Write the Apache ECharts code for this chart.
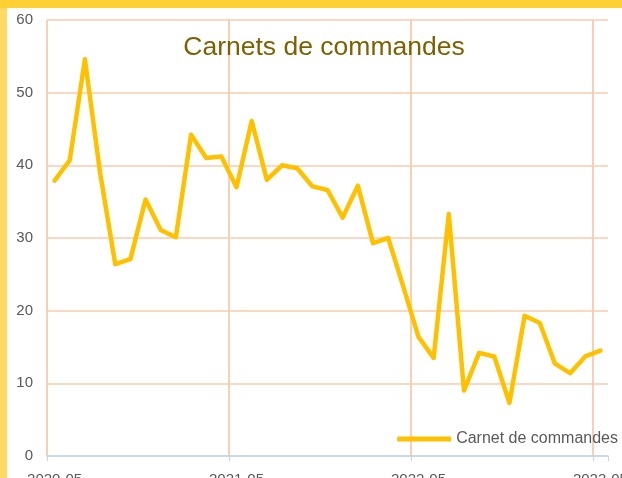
<!DOCTYPE html>
<html>
<head>
<meta charset="utf-8">
<script src="https://cdn.jsdelivr.net/npm/echarts@6/dist/echarts.min.js"></script>
<style>
  html, body { margin: 0; padding: 0; background: #ffffff; }
  #chart { width: 622px; height: 478px; }
</style>
</head>
<body>
<div id="chart"></div>
<script>
// Monthly order-book readings, May 2020 to May 2023
const months = [
  '2020-05', '2020-06', '2020-07', '2020-08', '2020-09', '2020-10', '2020-11', '2020-12',
  '2021-01', '2021-02', '2021-03', '2021-04', '2021-05', '2021-06', '2021-07', '2021-08',
  '2021-09', '2021-10', '2021-11', '2021-12', '2022-01', '2022-02', '2022-03', '2022-04',
  '2022-05', '2022-06', '2022-07', '2022-08', '2022-09', '2022-10', '2022-11', '2022-12',
  '2023-01', '2023-02', '2023-03', '2023-04', '2023-05'
];
const carnet = [
  37.9, 40.7, 54.6, 39.0, 26.4, 27.1, 35.3, 31.1, 30.1, 44.2, 41.0, 41.2,
  37.0, 46.1, 38.0, 40.0, 39.6, 37.1, 36.6, 32.8, 37.2, 29.3, 30.0, 23.3,
  16.4, 13.5, 33.3, 9.0, 14.2, 13.7, 7.3, 19.3, 18.3, 12.7, 11.4, 13.7, 14.5
];
const yTicks = { min: 0, max: 60, step: 10 };

const gridColor = '#F8CBAD';
const axisColor = '#BDD7EE';
const labelColor = '#595959';
const lineColor = '#FFC000';
const font = 'Liberation Sans, Arial, sans-serif';

// yearly marks (every May)
const everyYear = (i) => i % 12 === 0;

const chart = echarts.init(document.getElementById('chart'), null, { renderer: 'canvas' });
chart.setOption({
  backgroundColor: '#ffffff',
  animation: false,
  graphic: [
    { type: 'rect', shape: { x: 0, y: 0, width: 622, height: 8 }, style: { fill: '#FFD033' }, silent: true },
    { type: 'rect', shape: { x: 0, y: 8, width: 7, height: 470 }, style: { fill: '#FFD966' }, silent: true }
  ],
  title: {
    text: 'Carnets de commandes',
    left: 319,
    textAlign: 'center',
    top: 29,
    textStyle: { color: '#7F6000', fontSize: 26.5, fontWeight: 'normal', fontFamily: font }
  },
  legend: {
    data: [{ name: 'Carnet de commandes', icon: 'roundRect' }],
    right: 4,
    top: 431,
    padding: 0,
    itemWidth: 54,
    itemHeight: 5,
    itemGap: 5,
    itemStyle: { color: lineColor },
    textStyle: { color: labelColor, fontSize: 16, fontFamily: font }
  },
  grid: { left: 47, right: 14, top: 20, bottom: 22, containLabel: false, outerBoundsMode: 'none' },
  xAxis: {
    type: 'category',
    data: months,
    boundaryGap: true,
    axisLine: { show: true, lineStyle: { color: axisColor, width: 1.5 } },
    axisTick: { show: true, interval: everyYear, length: 5, lineStyle: { color: axisColor } },
    axisLabel: { interval: 11, color: labelColor, fontSize: 15, fontFamily: font, margin: 16 },
    splitLine: {
      show: true,
      interval: everyYear,
      showMaxLine: false,
      lineStyle: { color: gridColor, width: 1.8 }
    }
  },
  yAxis: {
    type: 'value',
    min: yTicks.min,
    max: yTicks.max,
    interval: yTicks.step,
    axisLine: { show: false },
    axisTick: { show: false },
    axisLabel: { color: labelColor, fontSize: 15, fontFamily: font, margin: 14 },
    splitLine: { show: true, lineStyle: { color: gridColor, width: 1.5 } }
  },
  series: [{
    name: 'Carnet de commandes',
    type: 'line',
    data: carnet,
    symbol: 'none',
    smooth: false,
    lineStyle: { color: lineColor, width: 4.5, join: 'round', cap: 'round' },
    itemStyle: { color: lineColor }
  }]
});
</script>
</body>
</html>
